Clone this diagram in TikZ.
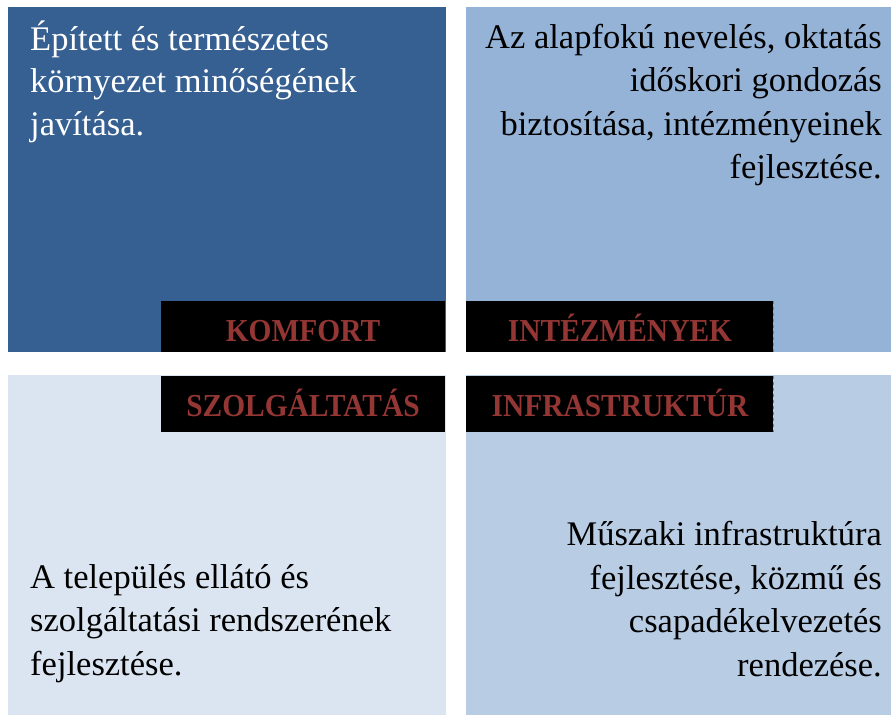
\documentclass[tikz,border=0pt]{standalone}
\usepackage{fontspec}
\setmainfont{Liberation Serif}
\newfontfamily\lblfont[FakeStretch=0.92]{Liberation Serif}
\definecolor{qdark}{HTML}{366092}
\definecolor{qmid}{HTML}{95B3D7}
\definecolor{qlight}{HTML}{DBE5F1}
\definecolor{qpale}{HTML}{B8CCE4}
\definecolor{lblred}{HTML}{943634}
\tikzset{
  lbl/.style={text=lblred, font=\lblfont\fontsize{32}{34}\selectfont\bfseries, inner sep=0pt, anchor=base},
  bodyl/.style={font=\fontsize{34.5}{40}\selectfont, inner sep=0pt, anchor=base west},
  bodyr/.style={font=\fontsize{34.5}{40}\selectfont, inner sep=0pt, anchor=base east},
}
\begin{document}
\begin{tikzpicture}[x=1pt,y=-1pt]
\useasboundingbox (0,0) rectangle (891,715);
% quadrants
\fill[qdark]  (8,7) rectangle (446,352);
\fill[qmid]   (466,7) rectangle (891,352);
\fill[qlight] (8,375) rectangle (446,715);
\fill[qpale]  (466,375) rectangle (891,715);
% label boxes
\fill[black] (161,301) rectangle (445,352);
\fill[black] (161,376) rectangle (445,432);
\fill[black] (466,301) rectangle (773,352);
\fill[black] (466,376) rectangle (773,432);
\draw[gray, dashed, line width=0.6pt] (773,301) -- (773,352);
\draw[gray, dashed, line width=0.6pt] (773,376) -- (773,432);
% labels
\node[lbl] (komfort) at (303,341) {KOMFORT};
\node[lbl] (szolg) at (303,416) {SZOLGÁLTATÁS};
\node[lbl] (intez) at (620,341) {INTÉZMÉNYEK};
\node[lbl] (infra) at (620,416) {INFRASTRUKTÚR};
% top-left text
\node[bodyl, text=white] (tl1) at (30,50) {Épített és természetes};
\node[bodyl, text=white] (tl2) at (30,92.5) {környezet minőségének};
\node[bodyl, text=white] (tl3) at (30,135) {javítása.};
% top-right text
\node[bodyr] (tr1) at (882,48) {Az alapfokú nevelés, oktatás};
\node[bodyr] (tr2) at (882,91.5) {időskori gondozás};
\node[bodyr] (tr3) at (882,135) {biztosítása, intézményeinek};
\node[bodyr] (tr4) at (882,178) {fejlesztése.};
% bottom-left text
\node[bodyl] (bl1) at (30,588) {A település ellátó és};
\node[bodyl] (bl2) at (30,631.5) {szolgáltatási rendszerének};
\node[bodyl] (bl3) at (30,675) {fejlesztése.};
% bottom-right text
\node[bodyr] (br1) at (882,545.5) {Műszaki infrastruktúra};
\node[bodyr] (br2) at (882,589) {fejlesztése, közmű és};
\node[bodyr] (br3) at (882,632.5) {csapadékelvezetés};
\node[bodyr] (br4) at (882,676) {rendezése.};
\end{tikzpicture}
\end{document}
